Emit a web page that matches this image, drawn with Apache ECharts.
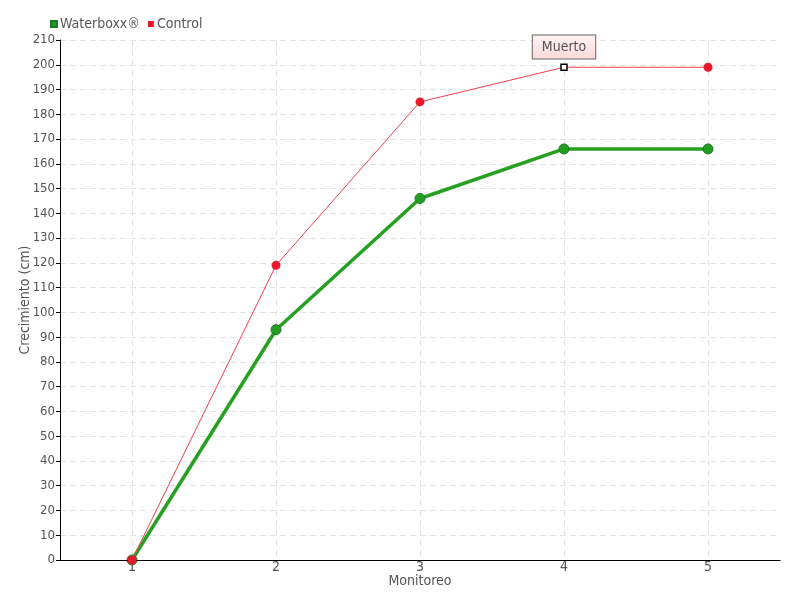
<!DOCTYPE html>
<html><head><meta charset="utf-8">
<script src="https://cdn.jsdelivr.net/npm/echarts@6/dist/echarts.min.js"></script>
<style>html,body{margin:0;padding:0;background:#fff}#c{width:800px;height:600px}</style>
</head><body><div id="c"></div>
<script>
var categories = ['1','2','3','4','5'];
var waterboxx = [0, 93, 146, 166, 166];
var control = [0, 119, 185, 199, 199];
var deadIndex = 3;
var deadLabel = 'Muerto';
var FONT = '"Liberation Sans Narrow", "DejaVu Sans Condensed", sans-serif';

var controlData = control.map(function(v, i){
  if (i !== deadIndex) return v;
  return {
    value: v,
    symbol: 'rect', symbolSize: 6,
    itemStyle: {color: '#fff', borderColor: '#000', borderWidth: 1.5},
    label: {
      show: true, position: 'top', distance: 5, formatter: deadLabel,
      color: '#555', fontSize: 14, fontFamily: FONT,
      padding: [5, 9, 4, 9], borderColor: '#666', borderWidth: 1,
      backgroundColor: {type: 'linear', x: 0, y: 0, x2: 0, y2: 1,
        colorStops: [{offset: 0, color: '#fff5f5'}, {offset: 1, color: '#ffd8d8'}]}
    }
  };
});

// helper grid axis (hidden) for vertical grid lines through category centres
var gridCats = [];
for (var k = 0; k <= categories.length * 2; k++) gridCats.push(String(k));

var chart = echarts.init(document.getElementById('c'));
chart.setOption({
  animation: false,
  textStyle: {fontFamily: FONT},
  legend: {
    left: 45, top: 12, itemWidth: 6, itemHeight: 6, itemGap: 8,
    icon: 'rect',
    textStyle: {color: '#555', fontSize: 14, fontFamily: FONT, padding: [0,0,0,-2]},
    data: ['Waterboxx®', 'Control']
  },
  grid: {left: 60, right: 20, top: 40, bottom: 40, containLabel: false, outerBoundsMode: 'none'},
  xAxis: [{
    type: 'category', data: categories, boundaryGap: true,
    name: 'Monitoreo', nameLocation: 'middle', nameGap: 14, nameMoveOverlap: false,
    nameTextStyle: {color: '#555', fontSize: 14, fontFamily: FONT},
    axisLine: {lineStyle: {color: '#000', width: 1}},
    axisTick: {alignWithLabel: true, length: 12, lineStyle: {color: '#555'}},
    axisLabel: {color: '#555', fontSize: 14, margin: 0, fontFamily: FONT},
    splitLine: {show: false},
    z: 3
  }, {
    type: 'category', data: gridCats, boundaryGap: false, position: 'bottom',
    axisLine: {show: false}, axisTick: {show: false}, axisLabel: {show: false},
    splitLine: {show: true, interval: function(i){ return i % 2 === 1; },
      lineStyle: {color: '#e3e3e3', type: [6, 4]}},
    z: 0
  }],
  yAxis: {
    type: 'value', min: 0, max: 210, interval: 10,
    name: 'Crecimiento (cm)', nameLocation: 'middle', nameGap: 28, nameRotate: 90, nameMoveOverlap: false,
    nameTextStyle: {color: '#555', fontSize: 14, fontFamily: FONT},
    axisLine: {show: true, lineStyle: {color: '#000', width: 1}},
    axisTick: {show: true, length: 4, lineStyle: {color: '#000'}},
    axisLabel: {color: '#555', fontSize: 13, margin: 5, fontFamily: FONT},
    splitLine: {show: true, lineStyle: {color: '#e3e3e3', type: [6, 4]}}
  },
  series: [
    {
      name: 'Waterboxx®', type: 'line', data: waterboxx, xAxisIndex: 0,
      color: '#2aa52a',
      lineStyle: {color: '#26a020', width: 3.5},
      symbol: 'circle', symbolSize: 10,
      itemStyle: {color: '#249c24', borderColor: '#1e7a1e', borderWidth: 1},
      z: 2
    },
    {
      name: 'Control', type: 'line', data: controlData, xAxisIndex: 0,
      color: '#e8192c',
      lineStyle: {color: '#f0404f', width: 1},
      symbol: 'circle', symbolSize: 9,
      itemStyle: {color: '#e8192c'},
      z: 3
    }
  ]
});
</script></body></html>
